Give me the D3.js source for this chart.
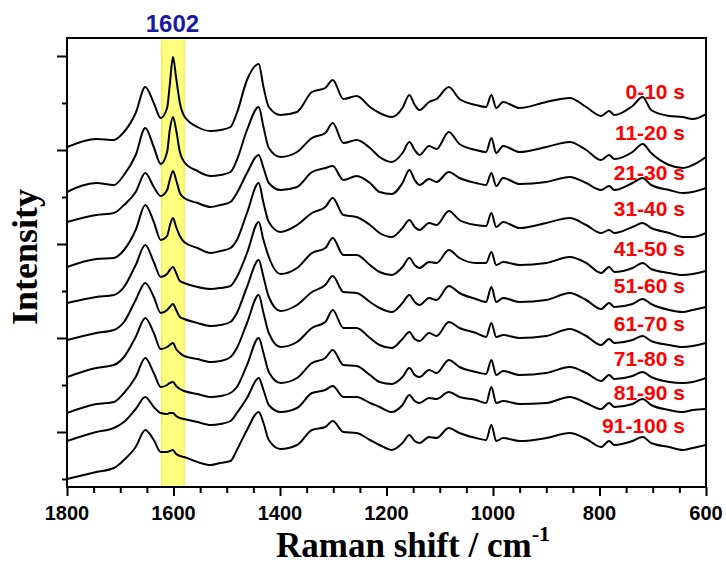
<!DOCTYPE html>
<html>
<head>
<meta charset="utf-8">
<script src="https://cdn.jsdelivr.net/npm/d3@7"></script>
<style>
  body { margin: 0; background: #fff; }
  svg { display: block; }
</style>
</head>
<body>
<svg id="chart" width="726" height="567"></svg>
<script>
// Raman shift grid (cm^-1), shared by every spectrum
const wavenumbers = [1800,1745,1712,1693,1671,1653,1637,1624,1612,1607,1601,1595,1588,1580,1555,1530,1512,1493,1481,1462,1440,1431,1421,1399,1368,1340,1315,1301,1281,1256,1231,1213,1190,1170,1157,1147,1138,1120,1106,1083,1063,1032,1013,1003,994,981,950,900,856,825,797,782,772,738,719,703,669,644,625,600];

// Stacked spectra (arbitrary intensity units, offsets included), one per time window
const s0_10   = [353,361,360,368,387,413,397,382,392,415,443,422,397,384,373,369,370,373,387,420,436,413,393,385,388,408,412,420,401,404,393,387,383,392,405,395,390,398,401,413,401,395,393,405,392,398,392,398,402,393,384,389,385,394,403,390,384,383,381,386];
const s11_20  = [308,317,315,325,345,372,353,336,348,370,383,370,348,338,329,324,325,328,340,370,393,373,352,343,348,362,367,377,357,360,352,343,338,347,358,350,345,354,351,368,356,350,348,362,347,354,348,353,358,350,340,345,341,348,356,347,335,332,335,343];
const s21_30  = [278,285,287,295,308,327,313,304,310,320,329,320,307,302,297,293,295,298,307,327,345,332,317,310,313,328,332,334,320,324,317,308,306,317,330,320,315,321,318,328,322,317,315,327,314,322,316,318,323,317,310,314,310,317,322,315,310,307,308,312];
const s31_40  = [233,241,242,250,270,295,278,260,264,274,282,273,264,258,252,247,249,252,260,287,317,297,278,268,275,287,293,302,285,283,275,267,263,272,280,273,270,277,275,289,280,275,274,287,273,278,272,277,282,275,267,270,267,273,277,272,267,263,263,267];
const s41_50  = [197,203,205,213,235,255,238,223,226,230,233,227,219,217,213,211,212,214,223,247,278,260,243,226,232,247,252,262,245,245,235,228,225,233,242,235,232,238,237,250,242,237,237,248,235,238,235,237,243,237,227,233,228,232,237,231,227,225,226,229];
const s51_60  = [160,167,170,178,200,217,203,187,190,193,196,190,183,181,177,174,175,178,187,213,240,223,203,189,195,208,215,224,208,207,198,192,188,197,205,198,195,202,200,214,207,201,198,213,198,202,198,200,207,200,191,197,193,196,201,196,190,188,190,193];
const s61_70  = [123,132,135,143,163,182,167,151,153,155,157,151,147,144,141,138,139,143,152,177,205,187,167,153,158,172,178,190,172,172,162,155,152,161,168,161,159,167,164,178,172,167,163,177,163,165,162,164,171,164,155,161,157,160,164,159,155,153,154,157];
const s71_80  = [87,96,98,107,123,142,127,113,115,117,118,114,111,109,106,103,104,107,113,135,162,147,128,117,122,137,142,150,135,134,125,118,116,123,132,125,123,130,127,140,133,128,126,140,125,129,125,127,133,127,119,125,121,124,128,123,118,117,118,122];
const s81_90  = [59,68,72,78,91,103,93,87,86,87,87,84,82,81,78,75,76,79,87,102,122,110,95,88,92,107,110,114,103,103,97,93,88,95,105,99,97,102,101,108,103,100,97,113,97,99,96,97,103,97,91,97,93,96,101,95,90,88,90,91];
const s91_100 = [21,28,32,40,53,70,60,48,48,49,50,46,44,43,38,35,37,39,50,70,88,77,60,51,55,70,73,79,68,67,60,55,50,57,65,59,57,63,62,72,67,62,60,75,59,62,59,62,67,61,53,59,55,59,63,57,53,50,52,55];

const spectra = [s0_10, s11_20, s21_30, s31_40, s41_50, s51_60, s61_70, s71_80, s81_90, s91_100];
const timeLabels = ["0-10 s","11-20 s","21-30 s","31-40 s","41-50 s","51-60 s","61-70 s","71-80 s","81-90 s","91-100 s"];
// intensity level at which each time label sits
const labelLevels = [401, 360, 320.5, 284.5, 244.5, 207.5, 169.5, 134.5, 100.5, 67.5];

// Axes
const xTickValues = d3.range(600, 1801, 50);
const xLabelValues = [1800, 1600, 1400, 1200, 1000, 800, 600];
const yTickValues = [21, 68, 115, 162, 209, 256, 303, 350, 397, 444];
const yMajorTicks = [68, 162, 256, 350, 444];

// Highlighted band around the 1602 cm^-1 line
const bandRange = [1580, 1622];
const bandCenter = 1602;

const svg = d3.select("#chart");
const margin = { left: 67, right: 706, top: 38, bottom: 487 };

const x = d3.scaleLinear().domain([1800, 600]).range([margin.left, margin.right]);
const y = d3.scaleLinear().domain([13, 462]).range([margin.bottom, margin.top]);

svg.append("rect").attr("width", 726).attr("height", 567).attr("fill", "#fff");

svg.append("defs").append("clipPath").attr("id", "plotClip")
  .append("rect")
  .attr("x", margin.left).attr("y", margin.top)
  .attr("width", margin.right - margin.left).attr("height", margin.bottom - margin.top);

// yellow band
svg.append("rect")
  .attr("x", x(bandRange[1]))
  .attr("y", margin.top)
  .attr("width", x(bandRange[0]) - x(bandRange[1]))
  .attr("height", margin.bottom - margin.top)
  .attr("fill", "#ffff80")
  .attr("stroke", "#eaea2a")
  .attr("stroke-width", 1);

svg.append("text")
  .attr("x", x(bandCenter))
  .attr("y", 32)
  .attr("text-anchor", "middle")
  .attr("font-family", "'Liberation Sans', Arial, sans-serif")
  .attr("font-weight", "bold")
  .attr("font-size", 24)
  .attr("fill", "#1a1aa0")
  .text(String(bandCenter));

// spectra
const line = d3.line()
  .x((d, i) => x(wavenumbers[i]))
  .y(d => y(d))
  .curve(d3.curveMonotoneX);

svg.append("g").attr("clip-path", "url(#plotClip)")
  .selectAll("path")
  .data(spectra)
  .join("path")
  .attr("d", line)
  .attr("fill", "none")
  .attr("stroke", "#000")
  .attr("stroke-width", 2)
  .attr("stroke-linejoin", "round");

// time labels
svg.append("g")
  .selectAll("text")
  .data(timeLabels)
  .join("text")
  .attr("x", 685)
  .attr("y", (d, i) => y(labelLevels[i]))
  .attr("text-anchor", "end")
  .attr("font-family", "'Liberation Sans', Arial, sans-serif")
  .attr("font-weight", "bold")
  .attr("font-size", 21)
  .attr("fill", "#ff0000")
  .text(d => d);

// x axis
const xAxis = d3.axisBottom(x)
  .tickValues(xTickValues)
  .tickSizeOuter(0)
  .tickFormat("");
const gx = svg.append("g").attr("transform", `translate(0,${margin.bottom})`).call(xAxis);
gx.select(".domain").remove();
gx.selectAll(".tick line")
  .attr("stroke", "#000").attr("stroke-width", 2)
  .attr("y2", d => (d % 200 === 0 ? 9 : 6));

svg.append("g")
  .selectAll("text")
  .data(xLabelValues)
  .join("text")
  .attr("x", d => x(d))
  .attr("y", 520)
  .attr("text-anchor", "middle")
  .attr("font-family", "'Liberation Sans', Arial, sans-serif")
  .attr("font-weight", "bold")
  .attr("font-size", 20)
  .attr("fill", "#000")
  .text(d => d);

// y axis (ticks only)
const yAxis = d3.axisLeft(y)
  .tickValues(yTickValues)
  .tickSizeOuter(0)
  .tickFormat("");
const gy = svg.append("g").attr("transform", `translate(${margin.left},0)`).call(yAxis);
gy.select(".domain").remove();
gy.selectAll(".tick line")
  .attr("stroke", "#000").attr("stroke-width", 2)
  .attr("x2", d => (yMajorTicks.includes(d) ? -10 : -5));

// frame
svg.append("rect")
  .attr("x", margin.left).attr("y", margin.top)
  .attr("width", margin.right - margin.left)
  .attr("height", margin.bottom - margin.top)
  .attr("fill", "none")
  .attr("stroke", "#000")
  .attr("stroke-width", 2);

// axis titles
const xTitle = svg.append("text")
  .attr("x", 276)
  .attr("y", 557)
  .attr("font-family", "'Liberation Serif', 'Times New Roman', serif")
  .attr("font-weight", "bold")
  .attr("font-size", 35)
  .attr("fill", "#000");
xTitle.append("tspan").text("Raman shift / cm");
xTitle.append("tspan").attr("font-size", 22).attr("dy", -16).text("-1");

svg.append("text")
  .attr("transform", "translate(37,257) rotate(-90)")
  .attr("text-anchor", "middle")
  .attr("font-family", "'Liberation Serif', 'Times New Roman', serif")
  .attr("font-weight", "bold")
  .attr("font-size", 36)
  .attr("fill", "#000")
  .text("Intensity");
</script>
</body>
</html>
